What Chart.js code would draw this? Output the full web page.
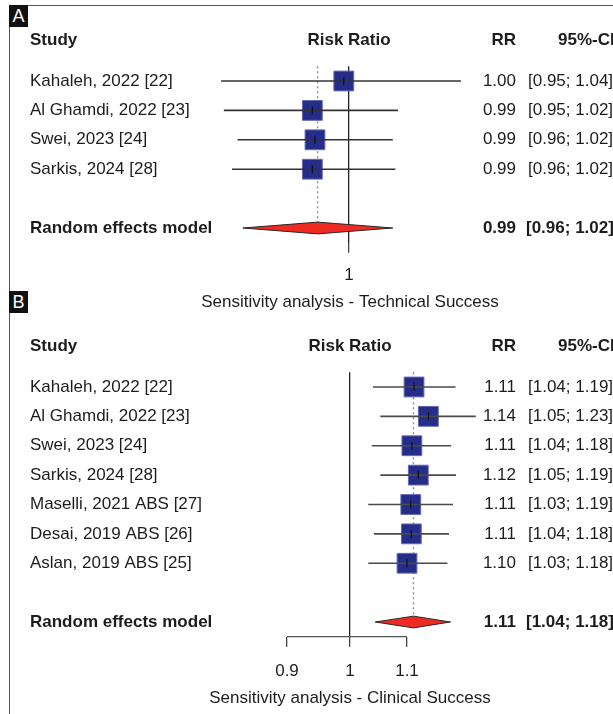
<!DOCTYPE html>
<html>
<head>
<meta charset="utf-8">
<script src="https://cdn.jsdelivr.net/npm/chart.js@4.4.1/dist/chart.umd.min.js"></script>
<style>
  html, body { margin: 0; padding: 0; background: #fff; }
  #wrap { position: relative; width: 613px; height: 714px; overflow: hidden; }
  canvas { position: absolute; left: 0; }
  #chartA { top: 0; }
  #chartB { top: 315px; }
  .frame-left { position: absolute; left: 9px; top: 5px; width: 1px; height: 709px; background: #555; }
  .frame-top { position: absolute; left: 9px; top: 5px; width: 604px; height: 1px; background: #555; }
  .tag { position: absolute; left: 9px; width: 19px; height: 22px; background: #111; color: #fff;
         font: 18px 'Liberation Sans', Arial, sans-serif; line-height: 22px; text-align: center; }
</style>
</head>
<body>
<div id="wrap">
  <canvas id="chartA" width="613" height="315"></canvas>
  <canvas id="chartB" width="613" height="399"></canvas>
  <div class="frame-left"></div>
  <div class="frame-top"></div>
  <div class="tag" style="top:5px">A</div>
  <div class="tag" style="top:291px">B</div>
</div>
<script>
const FONT = "'Liberation Sans', Arial, sans-serif";

/* Panel A - technical success */
const studiesA = ['Kahaleh, 2022 [22]', 'Al Ghamdi, 2022 [23]', 'Swei, 2023 [24]', 'Sarkis, 2024 [28]'];
const rrA = [0.998, 0.986, 0.987, 0.986];
const lowerA = [0.952, 0.953, 0.958, 0.956];
const upperA = [1.044, 1.019, 1.017, 1.018];
const pooledA = [0.988, 0.960, 1.017]; // estimate, lower, upper
const ticksA = [1];
const titleA = 'Sensitivity analysis - Technical Success';

/* Panel B - clinical success */
const studiesB = ['Kahaleh, 2022 [22]', 'Al Ghamdi, 2022 [23]', 'Swei, 2023 [24]', 'Sarkis, 2024 [28]',
                  'Maselli, 2021 ABS [27]', 'Desai, 2019 ABS [26]', 'Aslan, 2019 ABS [25]'];
const rrB = [1.113, 1.140, 1.109, 1.121, 1.107, 1.108, 1.100];
const lowerB = [1.039, 1.052, 1.037, 1.052, 1.031, 1.041, 1.031];
const upperB = [1.193, 1.234, 1.184, 1.194, 1.188, 1.180, 1.177];
const pooledB = [1.112, 1.043, 1.183];
const ticksB = [0.9, 1, 1.1];
const titleB = 'Sensitivity analysis - Clinical Success';

const headers = ['Study', 'Risk Ratio', 'RR', '95%-CI'];
const modelLabel = 'Random effects model';
const HEADER_ROW = -1.4;

/* Writes the study / RR / CI columns, the axis bracket and the title */
const forestText = {
  id: 'forestText',
  afterDraw(chart) {
    const o = chart.options.plugins.forestText;
    const ctx = chart.ctx;
    const ys = chart.scales.y;
    const xs = chart.scales.x;
    const area = chart.chartArea;
    const n = o.studies.length;
    ctx.save();

    /* axis line only between first and last tick, like the R plot */
    if (o.ticks.length > 1) {
      ctx.strokeStyle = '#555';
      ctx.lineWidth = 1.3;
      ctx.beginPath();
      ctx.moveTo(xs.getPixelForValue(o.ticks[0]), area.bottom);
      ctx.lineTo(xs.getPixelForValue(o.ticks[o.ticks.length - 1]), area.bottom);
      ctx.stroke();
    }

    ctx.fillStyle = '#1c1c1c';
    ctx.textBaseline = 'middle';

    const hy = ys.getPixelForValue(HEADER_ROW);
    ctx.font = 'bold 17px ' + FONT;
    ctx.textAlign = 'left';
    ctx.fillText(headers[0], 30, hy);
    ctx.textAlign = 'center';
    ctx.fillText(headers[1], xs.getPixelForValue(1), hy);
    ctx.textAlign = 'right';
    ctx.fillText(headers[2], 516, hy);
    ctx.textAlign = 'left';
    ctx.fillText(headers[3], 558, hy);

    const writeRow = (label, est, lo, hi, row, bold) => {
      const y = ys.getPixelForValue(row);
      ctx.font = (bold ? 'bold ' : '') + '17px ' + FONT;
      ctx.textAlign = 'left';
      ctx.fillText(label, 30, y);
      ctx.textAlign = 'right';
      ctx.fillText(est.toFixed(2), 516, y);
      ctx.textAlign = 'left';
      ctx.fillText('[' + lo.toFixed(2) + '; ' + hi.toFixed(2) + ']', bold ? 526 : 528, y);
    };
    o.studies.forEach((s, i) => writeRow(s, o.rr[i], o.lower[i], o.upper[i], i, false));
    writeRow(modelLabel, o.pooled[0], o.pooled[1], o.pooled[2], n + 1, true);

    ctx.font = '17px ' + FONT;
    ctx.textAlign = 'center';
    ctx.fillText(o.title, (area.left + area.right) / 2, area.bottom + o.titleOffset);
    ctx.restore();
  }
};

function makeForest(id, d) {
  const n = d.studies.length;
  const m = n + 1;
  const datasets = [];

  datasets.push({
    data: [{x: d.pooled[0], y: -0.5}, {x: d.pooled[0], y: m}],
    showLine: true, borderColor: '#8e8e8e', borderWidth: 1.4, borderDash: [2, 3],
    pointRadius: 0, order: 6, clip: false
  });
  datasets.push({
    data: d.rr.map((v, i) => ({x: v, y: i})),
    pointStyle: 'rect', pointRadius: 14,
    pointBackgroundColor: '#252d88', pointBorderColor: '#646ab5', pointBorderWidth: 1,
    order: 5, clip: false
  });
  d.studies.forEach((s, i) => {
    datasets.push({
      data: [{x: d.lower[i], y: i}, {x: d.upper[i], y: i}],
      showLine: true, borderColor: d.ciColor, borderWidth: 1.6,
      pointRadius: 0, order: 4, clip: false
    });
  });
  datasets.push({
    data: d.rr.map((v, i) => ({x: v, y: i})),
    pointStyle: 'line', pointRotation: 90, pointRadius: 4,
    pointBorderColor: '#111', pointBorderWidth: 1.2,
    order: 3, clip: false
  });
  datasets.push({
    data: [
      {x: d.pooled[1], y: m}, {x: d.pooled[0], y: m - 0.2},
      {x: d.pooled[2], y: m}, {x: d.pooled[0], y: m + 0.2}, {x: d.pooled[1], y: m}
    ],
    showLine: true, fill: 'shape', backgroundColor: '#ee2a22', borderColor: '#2a2a2a',
    borderWidth: 1, pointRadius: 0, order: 2, clip: false
  });

  return new Chart(document.getElementById(id), {
    type: 'scatter',
    data: {datasets},
    plugins: [forestText],
    options: {
      responsive: false,
      animation: false,
      events: [],
      layout: {padding: {left: 200, right: 113, top: d.top, bottom: 0}},
      plugins: {
        legend: {display: false},
        tooltip: {enabled: false},
        forestText: {
          studies: d.studies, rr: d.rr, lower: d.lower, upper: d.upper, pooled: d.pooled,
          ticks: d.ticks, title: d.title, titleOffset: d.titleOffset
        }
      },
      scales: {
        x: {
          type: 'logarithmic',
          position: 'bottom',
          bounds: 'data',
          min: d.xMin,
          max: d.xMax,
          afterBuildTicks: scale => { scale.ticks = d.ticks.map(v => ({value: v})); },
          afterFit: scale => { scale.height = d.axisHeight; },
          border: {display: false},
          grid: {
            drawOnChartArea: true,
            color: c => (c.tick && c.tick.value === 1) ? '#222' : 'rgba(0,0,0,0)',
            tickColor: '#444',
            tickLength: 10,
            lineWidth: 1.3
          },
          ticks: {
            autoSkip: false, maxRotation: 0, padding: d.tickPad,
            color: '#1c1c1c', font: {family: FONT, size: 17},
            callback: v => String(v)
          }
        },
        y: {
          type: 'linear', display: false, reverse: true,
          min: -0.5, max: m + 0.5
        }
      }
    }
  });
}

makeForest('chartA', {
  studies: studiesA, rr: rrA, lower: lowerA, upper: upperA, pooled: pooledA,
  ticks: ticksA, title: titleA, ciColor: '#333',
  xMin: 0.94430, xMax: 1.05980,
  top: 66.3, axisHeight: 72.3, tickPad: 12, titleOffset: 60
});

makeForest('chartB', {
  studies: studiesB, rr: rrB, lower: lowerB, upper: upperB, pooled: pooledB,
  ticks: ticksB, title: titleB, ciColor: '#4a4a4a',
  xMin: 0.77816, xMax: 1.28506,
  top: 57.3, axisHeight: 77.3, tickPad: 14, titleOffset: 62
});
</script>
</body>
</html>
